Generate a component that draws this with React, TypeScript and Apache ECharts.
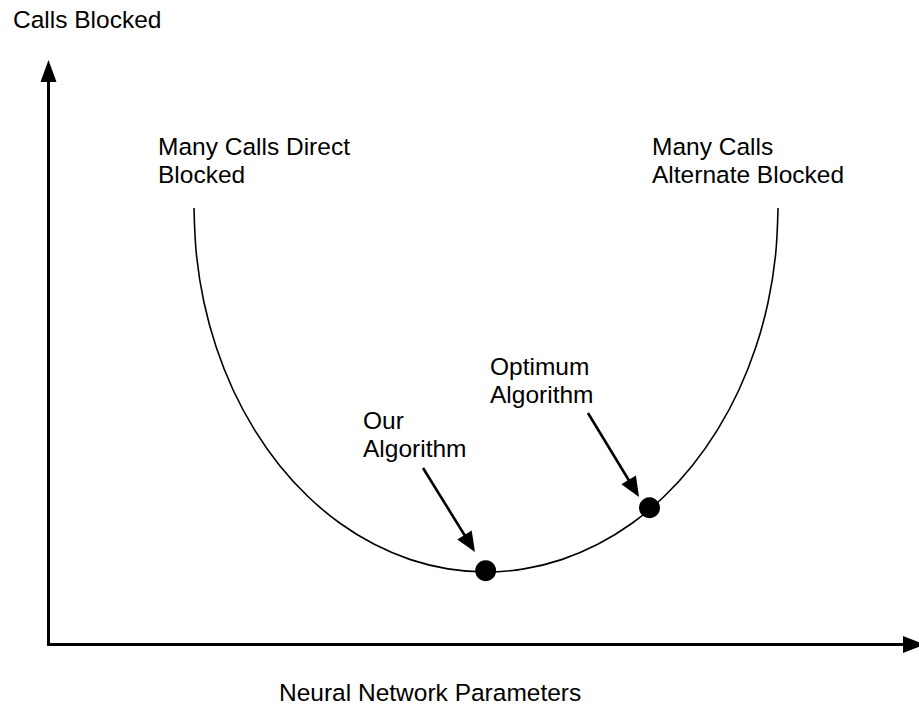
import React, { useEffect, useRef } from "react";
import * as echarts from "echarts";

// U-shaped curve: Calls Blocked vs Neural Network Parameters
const curveX = [16.81, 17.1, 17.96, 19.38, 21.33, 23.79, 26.7, 30.01, 33.68, 37.64, 41.82, 46.15, 50.55, 54.95, 59.28, 63.46, 67.42, 71.09, 74.4, 77.31, 79.77, 81.72, 83.14, 84.0, 84.29];
const curveY = [76.11, 67.83, 59.68, 51.82, 44.38, 37.47, 31.23, 25.76, 21.14, 17.47, 14.8, 13.19, 12.64, 13.19, 14.8, 17.47, 21.14, 25.76, 31.23, 37.47, 44.38, 51.82, 59.68, 67.83, 76.11];

// Marked algorithms
const pointNames = ["Our Algorithm", "Optimum Algorithm"];
const pointX = [50.51, 69.44];
const pointY = [12.87, 23.85];

// Annotation arrows (start -> arrowhead)
const arrowFromX = [43.27, 62.33];
const arrowFromY = [30.78, 40.37];
const arrowToX = [48.67, 67.63];
const arrowToY = [17.61, 27.21];

// Text labels
const yTitle = "Calls Blocked";
const xTitle = "Neural Network Parameters";
const noteLeft = "Many Calls Direct\nBlocked";
const noteRight = "Many Calls\nAlternate Blocked";
const noteOptimum = "Optimum\nAlgorithm";
const noteOurs = "Our\nAlgorithm";

const FONT = "'Liberation Sans', Arial, Helvetica, sans-serif";
const FS = 24.5;

export default function App() {
  const ref = useRef<HTMLDivElement>(null);

  useEffect(() => {
    if (!ref.current) return;
    const chart = echarts.init(ref.current, undefined, { renderer: "svg" });

    const textStyle = (text: string, multi: boolean) => ({
      text,
      fill: "#000",
      font: `${FS}px ${FONT}`,
      fontSize: FS,
      fontFamily: FONT,
      lineHeight: 28,
      align: "left",
      verticalAlign: multi ? "top" : "middle",
    });

    const option: any = {
      animation: false,
      backgroundColor: "#fff",
      grid: { left: 48.5, right: 5, top: 71, bottom: 68.5, containLabel: false },
      xAxis: {
        type: "value",
        min: 0,
        max: 100,
        axisLine: {
          show: true,
          onZero: false,
          symbol: ["none", "triangle"],
          symbolSize: [17, 22],
          lineStyle: { color: "#000", width: 3 },
        },
        axisTick: { show: false },
        axisLabel: { show: false },
        splitLine: { show: false },
      },
      yAxis: {
        type: "value",
        min: 0,
        max: 100,
        axisLine: {
          show: true,
          onZero: false,
          symbol: ["none", "triangle"],
          symbolSize: [16, 22],
          lineStyle: { color: "#000", width: 3 },
        },
        axisTick: { show: false },
        axisLabel: { show: false },
        splitLine: { show: false },
      },
      series: [
        {
          type: "line",
          name: "Calls Blocked",
          data: curveX.map((x, i) => [x, curveY[i]]),
          smooth: 0.35,
          symbol: "none",
          lineStyle: { color: "#000", width: 1.6 },
          z: 2,
        },
        {
          type: "scatter",
          name: "Algorithms",
          data: pointX.map((x, i) => ({ name: pointNames[i], value: [x, pointY[i]] })),
          symbol: "circle",
          symbolSize: 21,
          itemStyle: { color: "#000", opacity: 1 },
          z: 4,
          markLine: {
            silent: true,
            symbol: ["none", "triangle"],
            symbolSize: [17, 20],
            label: { show: false },
            lineStyle: { color: "#000", width: 2.6, type: "solid", opacity: 1 },
            data: arrowFromX.map((x, i) => [
              { coord: [x, arrowFromY[i]] },
              { coord: [arrowToX[i], arrowToY[i]] },
            ]),
          },
        },
      ],
      graphic: [
        { type: "text", x: 13, y: 19.5, style: textStyle(yTitle, false) },
        { type: "text", x: 279, y: 692.5, style: textStyle(xTitle, false) },
        { type: "text", x: 158, y: 132.5, style: textStyle(noteLeft, true) },
        { type: "text", x: 652, y: 132.5, style: textStyle(noteRight, true) },
        { type: "text", x: 490, y: 352.5, style: textStyle(noteOptimum, true) },
        { type: "text", x: 363, y: 406.5, style: textStyle(noteOurs, true) },
      ],
    };

    chart.setOption(option);
    return () => chart.dispose();
  }, []);

  return (
    <div
      ref={ref}
      style={{ position: "fixed", left: 0, top: 0, width: 919, height: 713, background: "#fff" }}
    />
  );
}
